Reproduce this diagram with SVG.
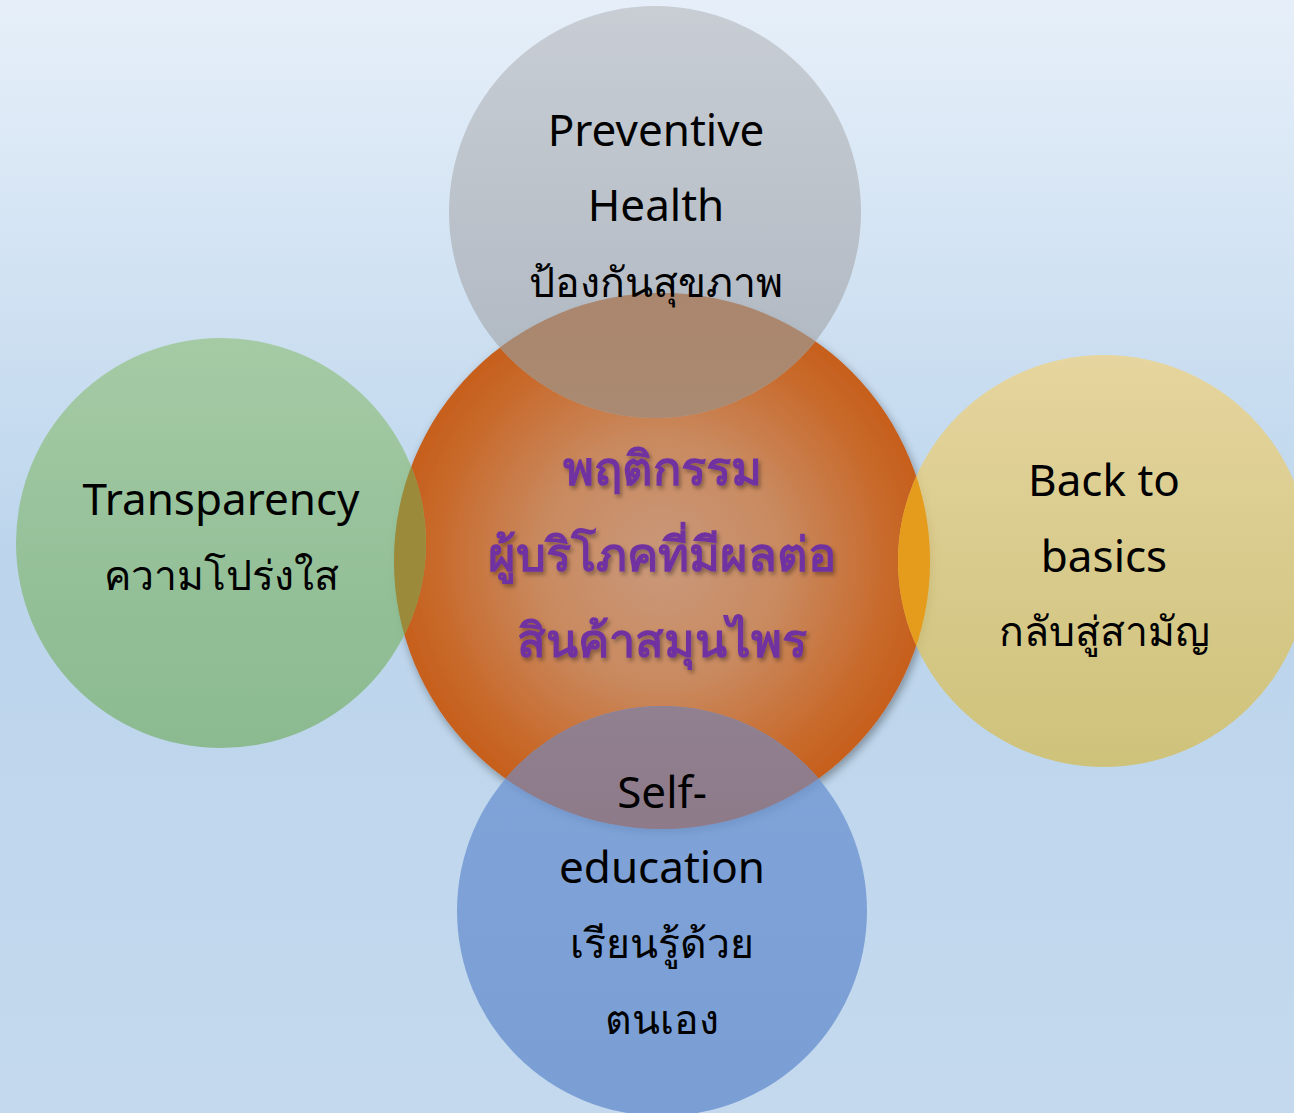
<svg xmlns="http://www.w3.org/2000/svg" width="1294" height="1113" viewBox="0 0 1294 1113">
<defs>
<linearGradient id="bg" x1="0" y1="0" x2="0" y2="1">
<stop offset="0" stop-color="#e6eff9"/>
<stop offset="0.5" stop-color="#bcd5ec"/>
<stop offset="1" stop-color="#c4d9ee"/>
</linearGradient>
<radialGradient id="gOrange" cx="0.5" cy="0.5" r="0.5">
<stop offset="0" stop-color="#c9987a"/>
<stop offset="0.45" stop-color="#c98a60"/>
<stop offset="0.85" stop-color="#c8692a"/>
<stop offset="1" stop-color="#c65f1c"/>
</radialGradient>
<linearGradient id="gGray" x1="0" y1="0" x2="0" y2="1">
<stop offset="0" stop-color="#c2c6cc"/>
<stop offset="1" stop-color="#a8aeb6"/>
</linearGradient>
<linearGradient id="gGreen" x1="0" y1="0" x2="0" y2="1">
<stop offset="0" stop-color="#9cc694"/>
<stop offset="1" stop-color="#80b47c"/>
</linearGradient>
<linearGradient id="gYellow" x1="0" y1="0" x2="0" y2="1">
<stop offset="0" stop-color="#ecd38c"/>
<stop offset="1" stop-color="#d2be62"/>
</linearGradient>
<linearGradient id="gBlue" x1="0" y1="0" x2="0" y2="1">
<stop offset="0" stop-color="#7399d4"/>
<stop offset="1" stop-color="#6a92cf"/>
</linearGradient>
<linearGradient id="oTop" x1="0" y1="0" x2="0" y2="1">
<stop offset="0" stop-color="#a97e62"/>
<stop offset="1" stop-color="#aa8a72"/>
</linearGradient>
<linearGradient id="oBottom" x1="0" y1="0" x2="0" y2="1">
<stop offset="0" stop-color="#908090"/>
<stop offset="1" stop-color="#8a6e7a"/>
</linearGradient>
<clipPath id="clipCenter">
<circle cx="662" cy="561" r="268"/>
</clipPath>
<filter id="shadow" x="-20%" y="-20%" width="140%" height="140%">
<feGaussianBlur in="SourceAlpha" stdDeviation="5"/>
<feOffset dx="2" dy="4" result="b"/>
<feComponentTransfer><feFuncA type="linear" slope="0.35"/></feComponentTransfer>
<feMerge><feMergeNode/><feMergeNode in="SourceGraphic"/></feMerge>
</filter>
<filter id="tshadow" x="-10%" y="-30%" width="120%" height="160%">
<feGaussianBlur in="SourceAlpha" stdDeviation="2"/>
<feOffset dx="2" dy="3"/>
<feComponentTransfer><feFuncA type="linear" slope="0.35"/></feComponentTransfer>
<feMerge><feMergeNode/><feMergeNode in="SourceGraphic"/></feMerge>
</filter>
</defs>
<style>
.t{font-family:"Noto Sans","DejaVu Sans",sans-serif;font-size:44px;fill:#000;text-anchor:middle}
.th{font-size:41px}
.c{font-family:"Noto Sans","DejaVu Sans",sans-serif;font-size:47px;font-weight:bold;fill:#7030a0;text-anchor:middle}
.sat{opacity:0.82}
</style>
<rect x="0" y="0" width="1294" height="1113" fill="url(#bg)"/>
<g id="center">
<circle cx="662" cy="561" r="268" fill="url(#gOrange)" filter="url(#shadow)"/>
</g>
<g id="connectors"></g>
<g id="top">
<circle cx="655" cy="212" r="206" fill="url(#gGray)" class="sat"/>
<circle cx="655" cy="212" r="206" fill="url(#oTop)" clip-path="url(#clipCenter)"/>
<text class="t" x="656" y="146">Preventive</text>
<text class="t" x="656" y="221">Health</text>
<text class="t th" x="656" y="297">ป้องกันสุขภาพ</text>
</g>
<g id="left">
<circle cx="221" cy="543" r="205" fill="url(#gGreen)" class="sat"/>
<circle cx="221" cy="543" r="205" fill="#9a8a3a" clip-path="url(#clipCenter)"/>
<text class="t" x="221" y="515">Transparency</text>
<text class="t th" x="221" y="590">ความโปร่งใส</text>
</g>
<g id="right">
<circle cx="1104" cy="561" r="206" fill="url(#gYellow)" class="sat"/>
<circle cx="1104" cy="561" r="206" fill="#e59c1c" clip-path="url(#clipCenter)"/>
<text class="t" x="1104" y="496">Back to</text>
<text class="t" x="1104" y="572">basics</text>
<text class="t th" x="1104" y="646">กลับสู่สามัญ</text>
</g>
<g id="bottom">
<circle cx="662" cy="911" r="205" fill="url(#gBlue)" class="sat"/>
<circle cx="662" cy="911" r="205" fill="url(#oBottom)" clip-path="url(#clipCenter)"/>
<text class="t" x="662" y="808">Self-</text>
<text class="t" x="662" y="883">education</text>
<text class="t th" x="662" y="958">เรียนรู้ด้วย</text>
<text class="t th" x="662" y="1034">ตนเอง</text>
</g>
<g id="center-label" filter="url(#tshadow)">
<text class="c" x="662" y="485">พฤติกรรม</text>
<text class="c" x="662" y="571">ผู้บริโภคที่มีผลต่อ</text>
<text class="c" x="662" y="657">สินค้าสมุนไพร</text>
</g>
</svg>
